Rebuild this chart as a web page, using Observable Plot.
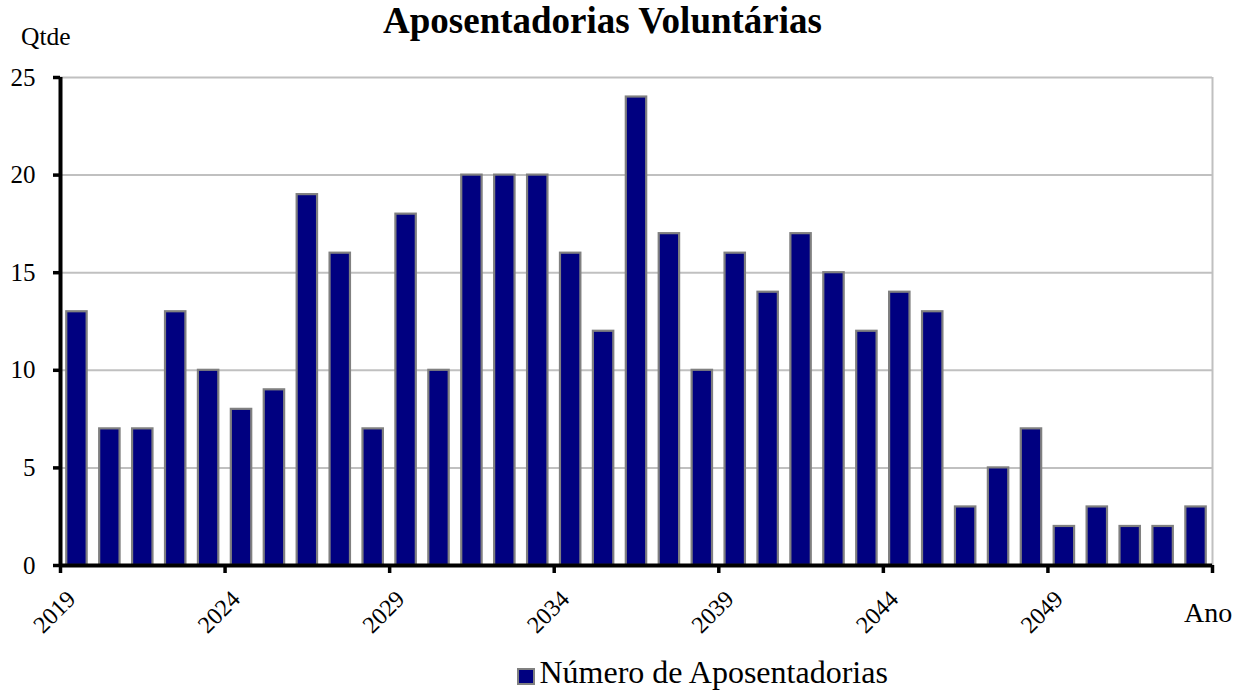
<!DOCTYPE html>
<html>
<head>
<meta charset="utf-8">
<script src="https://cdn.jsdelivr.net/npm/d3@7"></script>
<script src="https://cdn.jsdelivr.net/npm/@observablehq/plot@0.6"></script>
<style>
  html, body { margin: 0; padding: 0; background: #ffffff; overflow: hidden; }
  #wrap { position: relative; width: 1250px; height: 693px; font-family: "Liberation Serif", "Times New Roman", serif; color: #000; }
  #wrap svg { position: absolute; left: 0; top: 0; }
  #wrap svg, #wrap svg text { font-family: "Liberation Serif", "Times New Roman", serif !important; }
  .lbl { position: absolute; line-height: 1; white-space: nowrap; }
  #title { top: 2px; left: 602.5px; transform: translateX(-50%); font-size: 37px; font-weight: bold; }
  #qtde { top: 23.5px; left: 21px; font-size: 25.5px; }
  #ano { top: 598.5px; left: 1184px; font-size: 28px; }
  #legend { top: 656px; left: 517px; font-size: 32px; }
  #legend .sw { position: absolute; left: 0; top: 12px; width: 14px; height: 13px; background: #000080; border: 2px solid #808080; }
  #legend .tx { position: absolute; left: 22.5px; top: 0; }
</style>
</head>
<body>
<div id="wrap">
  <div id="title" class="lbl">Aposentadorias Voluntárias</div>
  <div id="qtde" class="lbl">Qtde</div>
  <div id="ano" class="lbl">Ano</div>
  <div id="legend" class="lbl"><span class="sw"></span><span class="tx">Número de Aposentadorias</span></div>
</div>
<script>
// Categories (years)
const years = [2019, 2020, 2021, 2022, 2023, 2024, 2025, 2026, 2027, 2028,
               2029, 2030, 2031, 2032, 2033, 2034, 2035, 2036, 2037, 2038,
               2039, 2040, 2041, 2042, 2043, 2044, 2045, 2046, 2047, 2048,
               2049, 2050, 2051, 2052, 2053];
// Número de Aposentadorias
const values = [13, 7, 7, 13, 10, 8, 9, 19, 16, 7,
                18, 10, 20, 20, 20, 16, 12, 24, 17, 10,
                16, 14, 17, 15, 12, 14, 13, 3, 5, 7,
                2, 3, 2, 2, 3];
// Tick labels
const xTickLabels = [2019, 2024, 2029, 2034, 2039, 2044, 2049];
const yTicks = [0, 5, 10, 15, 20, 25];

const W = 1250, H = 693;
const mL = 60, mR = 38, mT = 77, mB = 128;
const step = (W - mL - mR) / years.length;
const lastYear = years[years.length - 1];
const serif = '"Liberation Serif", "Times New Roman", serif';

const data = years.map((y, i) => ({year: y, value: values[i]}));

const chart = Plot.plot({
  width: W,
  height: H,
  marginLeft: mL,
  marginRight: mR,
  marginTop: mT,
  marginBottom: mB,
  style: {fontFamily: serif, background: "transparent", color: "#000"},
  x: {type: "band", domain: years, paddingInner: 0.38, paddingOuter: 0.19, axis: null},
  y: {domain: [0, 25], axis: null},
  marks: [
    Plot.ruleY(yTicks, {stroke: "#c0c0c0", strokeWidth: 2}),
    Plot.ruleX([lastYear], {dx: step / 2, stroke: "#c0c0c0", strokeWidth: 2}),
    Plot.barY(data, {x: "year", y: "value", fill: "#000080", stroke: "#808080", strokeWidth: 2.2}),
    Plot.ruleY([0], {stroke: "#000", strokeWidth: 4}),
    Plot.ruleX([years[0]], {dx: -step / 2, stroke: "#000", strokeWidth: 4}),
    Plot.ruleX(xTickLabels, {dx: -step / 2, y1: 0, y2: 0, insetBottom: -8, stroke: "#000", strokeWidth: 3.5}),
    Plot.ruleX([lastYear], {dx: step / 2, y1: 0, y2: 0, insetBottom: -8, stroke: "#000", strokeWidth: 3.5}),
    Plot.axisY({ticks: yTicks, tickSize: 7, tickPadding: 18, fontSize: 25, fontFamily: serif, stroke: "#000", strokeWidth: 3.5, label: null, tickFormat: d => String(d)}),
    Plot.text(xTickLabels, {x: d => d, text: d => String(d), frameAnchor: "bottom", dy: 35, rotate: -45, textAnchor: "end", lineAnchor: "bottom", fontSize: 24, fontFamily: serif, fill: "#000"})
  ]
});
document.getElementById("wrap").prepend(chart);
</script>
</body>
</html>
